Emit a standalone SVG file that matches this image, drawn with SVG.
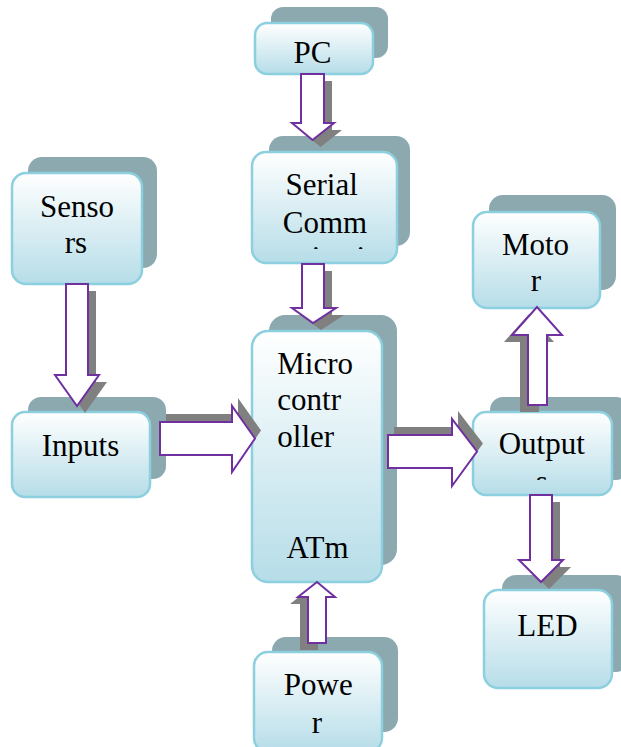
<svg xmlns="http://www.w3.org/2000/svg" width="621" height="747" viewBox="0 0 621 747">
<style>
.sh{fill:#8ba9ae}
.bx{fill:url(#g);stroke:#8ccfdf;stroke-width:2.5}
.t{font-family:"Liberation Serif","Times New Roman",serif;font-size:31px;fill:#000;text-anchor:middle}
.tl{font-family:"Liberation Serif","Times New Roman",serif;font-size:31px;fill:#000}
.as{fill:#808080}
.ar{fill:#fff;stroke:#7030a0;stroke-width:2;stroke-linejoin:miter}
</style>
<defs>
<linearGradient id="g" x1="0" y1="0" x2="0" y2="1">
<stop offset="0" stop-color="#ffffff"/>
<stop offset="1" stop-color="#b6dde8"/>
</linearGradient>
<clipPath id="cs"><rect x="252" y="150" width="145" height="99"/></clipPath>
<clipPath id="co"><rect x="473" y="410" width="139" height="70"/></clipPath>
</defs>
<rect width="621" height="747" fill="#fff"/>
<g id="pc">
<rect class="sh" x="271" y="7" width="117" height="51" rx="12"/>
<rect class="bx" x="255" y="23" width="118" height="51" rx="12"/>
<text class="t" x="312.5" y="63">PC</text>
</g>
<g id="serial">
<rect class="sh" x="269" y="136" width="141" height="110" rx="14"/>
<rect class="bx" x="252" y="152" width="145" height="111" rx="14"/>
<text class="t" x="321.7" y="195">Serial</text>
<text class="t" x="325" y="232.7">Comm</text>
<text class="t" x="323" y="268" clip-path="url(#cs)">unicati</text>
</g>
<g id="sensors">
<rect class="sh" x="28" y="157" width="129" height="111" rx="14"/>
<rect class="bx" x="12" y="173" width="130" height="111" rx="14"/>
<text class="t" x="77" y="216.7">Senso</text>
<text class="t" x="76" y="253.3">rs</text>
</g>
<g id="inputs">
<rect class="sh" x="28" y="397" width="138" height="82" rx="13"/>
<rect class="bx" x="12" y="412" width="138" height="85" rx="13"/>
<text class="t" x="80.5" y="456">Inputs</text>
</g>
<g id="mcu">
<rect class="sh" x="269" y="315" width="128" height="250" rx="16"/>
<rect class="bx" x="252" y="331" width="130" height="251" rx="16"/>
<text class="tl" x="277.3" y="374">Micro</text>
<text class="tl" x="277.3" y="410">contr</text>
<text class="tl" x="277.3" y="446.7">oller</text>
<text class="t" x="317.5" y="558.3">ATm</text>
</g>
<g id="motor">
<rect class="sh" x="489" y="195" width="127" height="95" rx="14"/>
<rect class="bx" x="473" y="212" width="127" height="96" rx="14"/>
<text class="t" x="535.5" y="255">Moto</text>
<text class="t" x="536" y="290.7">r</text>
</g>
<g id="outputs">
<rect class="sh" x="490" y="397" width="139" height="83" rx="13"/>
<rect class="bx" x="473" y="412" width="139" height="83" rx="13"/>
<text class="t" x="541.7" y="454">Output</text>
<text class="t" x="541.7" y="491.7" clip-path="url(#co)">s</text>
</g>
<g id="led">
<rect class="sh" x="502" y="575" width="128" height="97" rx="14"/>
<rect class="bx" x="484" y="590" width="128" height="98" rx="14"/>
<text class="t" x="547.5" y="635.7">LED</text>
</g>
<g id="power">
<rect class="sh" x="272" y="637" width="126" height="95" rx="14"/>
<rect class="bx" x="254" y="652" width="128" height="100" rx="14"/>
<text class="t" x="318.3" y="695">Powe</text>
<text class="t" x="317" y="732.7">r</text>
</g>
<g id="connectors">
<g transform="translate(8,7)" class="as">
<polygon points="301,74 324,74 324,123 334,123 312.5,140 292,123 301,123"/>
<polygon points="302,264 324,264 324,308 336,308 313,323 292,308 302,308"/>
<polygon points="66,284 88,284 88,375 99,375 77,406 55,375 66,375"/>
<polygon points="530,495 552,495 552,560 563,560 541,582 519,560 530,560"/>
</g>
<g transform="translate(6,-8)" class="as">
<polygon points="160,422 232,422 232,406 255,438.5 232,472 232,455 160,455"/>
<polygon points="388,435 452,435 452,419 477,451.5 452,486 452,468 388,468"/>
</g>
<g transform="translate(-8,7)" class="as">
<polygon points="308,643 308,597 298,597 317,582 335,597 326,597 326,643"/>
<polygon points="528,405 528,335 512,335 537,307 562,335 547,335 547,405"/>
</g>
<polygon class="ar" points="301,74 324,74 324,123 334,123 312.5,140 292,123 301,123"/>
<polygon class="ar" points="302,264 324,264 324,308 336,308 313,323 292,308 302,308"/>
<polygon class="ar" points="66,284 88,284 88,375 99,375 77,406 55,375 66,375"/>
<polygon class="ar" points="530,495 552,495 552,560 563,560 541,582 519,560 530,560"/>
<polygon class="ar" points="160,422 232,422 232,406 255,438.5 232,472 232,455 160,455"/>
<polygon class="ar" points="388,435 452,435 452,419 477,451.5 452,486 452,468 388,468"/>
<polygon class="ar" points="308,643 308,597 298,597 317,582 335,597 326,597 326,643"/>
<polygon class="ar" points="528,405 528,335 512,335 537,307 562,335 547,335 547,405"/>
</g>
</svg>
